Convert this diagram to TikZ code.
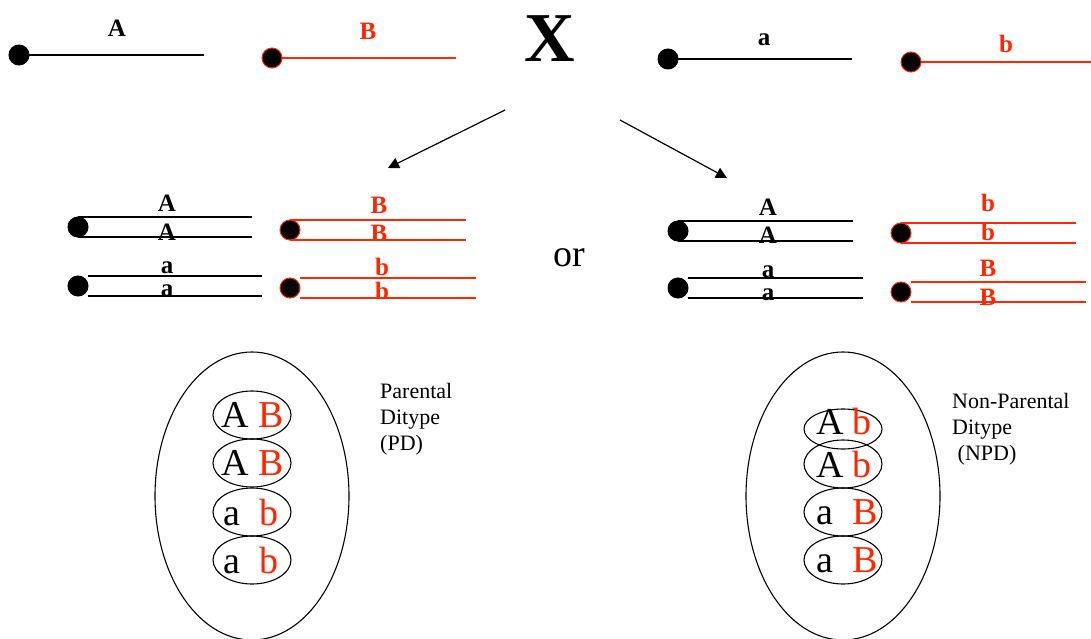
\documentclass[tikz,border=0pt]{standalone}
\usepackage{fontspec}
\setmainfont{Liberation Serif}
\usetikzlibrary{arrows.meta}

\definecolor{chromred}{RGB}{255,38,0}

\newcommand{\dotRad }{10pt}
\newcommand{\gap    }{10}
\newcommand{\sporeRx}{39pt}
\newcommand{\sporeRy}{24pt}
\newcommand{\ascusRx}{97pt}
\newcommand{\ascusRy}{144pt}

\tikzset{
  chrom/.style={line width=1.3pt},
  centro/.style={circle, fill=black, draw=#1, line width=1pt, minimum size=2*\dotRad, inner sep=0pt},
  centro/.default=black,
  allele/.style={inner sep=0pt, font=\fontsize{25}{27}\selectfont\bfseries},
  spore/.style={inner sep=0pt, font=\fontsize{38}{40}\selectfont},
  note/.style={inner sep=0pt, align=left, anchor=north west, font=\fontsize{22}{26}\selectfont},
}

\begin{document}
\begin{tikzpicture}[x=1pt, y=-1pt]
  \useasboundingbox (0,0) rectangle (1091,639);

  % Parents:
  \draw[chrom]           (19,55)  -- (204,55);
  \draw[chrom, chromred] (272,58) -- (456,58);
  \draw[chrom]           (668,59) -- (852,59);
  \draw[chrom, chromred] (911,62) -- (1091,62);
  \node[centro]          (cenA) at (19,55)  {};
  \node[centro=chromred] (cenB) at (272,58) {};
  \node[centro]          (cena) at (668,59) {};
  \node[centro=chromred] (cenb) at (911,62) {};
  \node[allele]                 (topA) at (117,28)  {A};
  \node[allele, text=chromred]  (topB) at (368,31)  {B};
  \node[allele]                 (topa) at (764,40)  {a};
  \node[allele, text=chromred]  (topb) at (1006,44) {b};
  \node[inner sep=0pt, font=\fontsize{70}{70}\selectfont\bfseries] (cross) at (550,39) {X};

  % Arrows:
  \coordinate (forkL) at (505,110);
  \coordinate (forkR) at (620,120);
  \coordinate (toPD)  at (388,168);
  \coordinate (toNPD) at (727,178);
  \draw[line width=1.2pt, -{Triangle[length=11pt, width=11pt]}] (forkL) -- (toPD);
  \draw[line width=1.2pt, -{Triangle[length=11pt, width=11pt]}] (forkR) -- (toNPD);

  % Replicated chromosomes, left:
  \draw[chrom] (78,227-\gap) -- (252,227-\gap);
  \draw[chrom] (78,227+\gap) -- (252,227+\gap);
  \draw[chrom] (88,286-\gap) -- (262,286-\gap);
  \draw[chrom] (88,286+\gap) -- (262,286+\gap);
  \draw[chrom, chromred] (290,230-\gap) -- (466,230-\gap);
  \draw[chrom, chromred] (290,230+\gap) -- (466,230+\gap);
  \draw[chrom, chromred] (300,288-\gap) -- (476,288-\gap);
  \draw[chrom, chromred] (300,288+\gap) -- (476,288+\gap);
  \node[centro]          (lcenA) at (78,227)  {};
  \node[centro]          (lcena) at (78,286)  {};
  \node[centro=chromred] (lcenB) at (290,230) {};
  \node[centro=chromred] (lcenb) at (290,288) {};
  \node[allele] (lA1) at (167,203) {A};
  \node[allele] (lA2) at (167,232) {A};
  \node[allele] (la1) at (167,268) {a};
  \node[allele] (la2) at (167,291) {a};
  \node[allele, text=chromred] (lB1) at (379,205) {B};
  \node[allele, text=chromred] (lB2) at (379,233) {B};
  \node[allele, text=chromred] (lb1) at (382,267) {b};
  \node[allele, text=chromred] (lb2) at (382,291) {b};

  % Replicated chromosomes, right:
  \draw[chrom] (678,231-\gap) -- (853,231-\gap);
  \draw[chrom] (678,231+\gap) -- (853,231+\gap);
  \draw[chrom] (688,288-\gap) -- (863,288-\gap);
  \draw[chrom] (688,288+\gap) -- (863,288+\gap);
  \draw[chrom, chromred] (901,233-\gap) -- (1076,233-\gap);
  \draw[chrom, chromred] (901,233+\gap) -- (1076,233+\gap);
  \draw[chrom, chromred] (911,292-\gap) -- (1086,292-\gap);
  \draw[chrom, chromred] (911,292+\gap) -- (1086,292+\gap);
  \node[centro]          (rcenA) at (678,231) {};
  \node[centro]          (rcena) at (678,288) {};
  \node[centro=chromred] (rcenb) at (901,233) {};
  \node[centro=chromred] (rcenB) at (901,292) {};
  \node[allele] (rA1) at (768,207) {A};
  \node[allele] (rA2) at (768,235) {A};
  \node[allele] (ra1) at (768,272) {a};
  \node[allele] (ra2) at (768,295) {a};
  \node[allele, text=chromred] (rb1) at (988,203) {b};
  \node[allele, text=chromred] (rb2) at (988,232) {b};
  \node[allele, text=chromred] (rB1) at (988,268) {B};
  \node[allele, text=chromred] (rB2) at (988,297) {B};

  \node[inner sep=0pt, font=\fontsize{38}{40}\selectfont] (or) at (569,258) {or};

  % Asci:
  \draw[line width=1.1pt] (252,496) ellipse [x radius=\ascusRx, y radius=\ascusRy];
  \draw[line width=1.1pt] (843,496) ellipse [x radius=\ascusRx, y radius=\ascusRy];

  % Spores, PD:
  \foreach \y in {415,463,512,560}
    \draw[line width=1.1pt] (252,\y) ellipse [x radius=\sporeRx, y radius=\sporeRy];
  \node[spore] (pd1) at (253,415) {A \textcolor{chromred}{B}};
  \node[spore] (pd2) at (253,463) {A \textcolor{chromred}{B}};
  \node[spore] (pd3) at (251,512) {a~~\textcolor{chromred}{b}};
  \node[spore] (pd4) at (251,560) {a~~\textcolor{chromred}{b}};

  % Spores, NPD:
  \draw[line width=1.1pt] (843,429) ellipse [x radius=\sporeRx, y radius=20pt];
  \foreach \y in {464,512,560}
    \draw[line width=1.1pt] (843,\y) ellipse [x radius=\sporeRx, y radius=\sporeRy];
  \node[spore] (npd1) at (844,421) {A \textcolor{chromred}{b}};
  \node[spore] (npd2) at (844,464) {A \textcolor{chromred}{b}};
  \node[spore] (npd3) at (847,512) {a~~\textcolor{chromred}{B}};
  \node[spore] (npd4) at (847,560) {a~~\textcolor{chromred}{B}};

  % Labels:
  \node[note] (pdtext)  at (380,383) {Parental\\Ditype\\(PD)};
  \node[note] (npdtext) at (952,393) {Non-Parental\\Ditype\\~(NPD)};

\end{tikzpicture}
\end{document}
